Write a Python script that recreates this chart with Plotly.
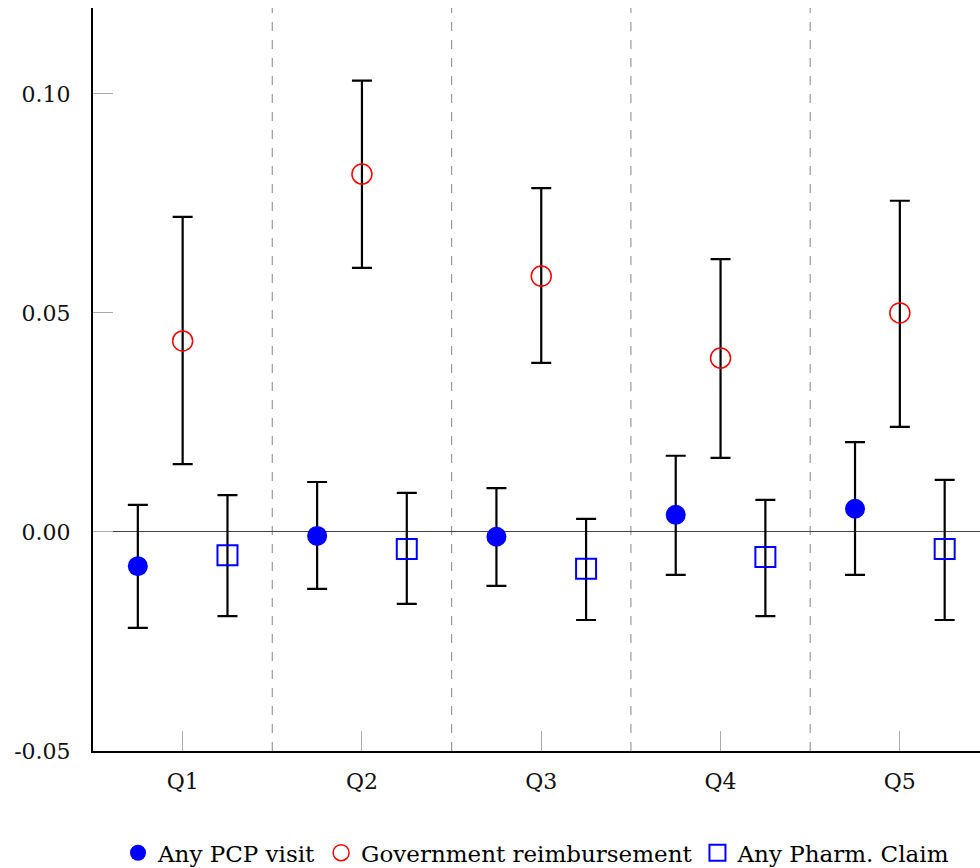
import plotly.graph_objects as go

quintiles = ["Q1", "Q2", "Q3", "Q4", "Q5"]
positions = [1, 2, 3, 4, 5]
offsets = [-0.25, 0.0, 0.25]

pcp_est = [-0.0078, -0.0009, -0.0011, 0.0039, 0.0053]
pcp_hi = [0.0062, 0.0114, 0.0100, 0.0174, 0.0205]
pcp_lo = [-0.0219, -0.0130, -0.0123, -0.0098, -0.0098]

gov_est = [0.0436, 0.0817, 0.0584, 0.0397, 0.0500]
gov_hi = [0.0719, 0.1030, 0.0785, 0.0623, 0.0756]
gov_lo = [0.0155, 0.0603, 0.0386, 0.0169, 0.0240]

pharm_est = [-0.0053, -0.0039, -0.0084, -0.0057, -0.0039]
pharm_hi = [0.0084, 0.0089, 0.0030, 0.0073, 0.0119]
pharm_lo = [-0.0192, -0.0164, -0.0201, -0.0192, -0.0201]

series_names = ["Any PCP visit", "Government reimbursement", "Any Pharm. Claim"]
dividers = [1.5, 2.5, 3.5, 4.5]
y_ticks = [-0.05, 0.0, 0.05, 0.10]
y_tick_text = ["-0.05", "0.00", "0.05", "0.10"]

FONT = "DejaVu Serif"

fig = go.Figure()

series = [
    (pcp_est, pcp_hi, pcp_lo, dict(symbol="circle", size=20, color="#0000ff")),
    (gov_est, gov_hi, gov_lo, dict(symbol="circle-open", size=20, color="#ff0000", line=dict(width=1.5, color="#ff0000"))),
    (pharm_est, pharm_hi, pharm_lo, dict(symbol="square-open", size=20, color="#0000ff", line=dict(width=2, color="#0000ff"))),
]

for (est, hi, lo, marker), off, name in zip(series, offsets, series_names):
    xs = [p + off for p in positions]
    fig.add_trace(go.Scatter(
        x=xs, y=est, mode="markers", name=name, showlegend=False,
        marker=marker,
        error_y=dict(type="data", symmetric=False,
                     array=[h - e for h, e in zip(hi, est)],
                     arrayminus=[e - l for e, l in zip(est, lo)],
                     color="black", thickness=2.2, width=10),
    ))
    fig.add_trace(go.Scatter(
        x=[None], y=[None], mode="markers", name=name, showlegend=True,
        marker=marker,
    ))

for d in dividers:
    fig.add_shape(type="line", x0=d, x1=d, y0=0, y1=1, xref="x", yref="paper",
                  line=dict(color="#999999", width=1.2, dash="dash"), layer="below")

fig.update_layout(
    width=980, height=868,
    margin=dict(l=93, r=0, t=8, b=117, autoexpand=False),
    paper_bgcolor="white", plot_bgcolor="white",
    font=dict(family=FONT, size=22, color="#111111"),
    showlegend=True,
    legend=dict(orientation="h", x=0.5, xanchor="center", y=-0.137, yanchor="middle",
                font=dict(family=FONT, size=23, color="black"),
                itemsizing="trace", tracegroupgap=0, itemwidth=30),
    xaxis=dict(range=[0.5, 5.447], tickvals=positions, ticktext=quintiles,
               ticks="inside", ticklen=20, tickcolor="#aaaaaa", tickwidth=1,
               showline=True, linecolor="black", linewidth=2, mirror=False,
               showgrid=False, zeroline=False, ticklabelstandoff=10),
    yaxis=dict(range=[-0.05, 0.1196], tickvals=y_ticks, ticktext=y_tick_text,
               ticks="inside", ticklen=20, tickcolor="#aaaaaa", tickwidth=1,
               showline=True, linecolor="black", linewidth=2, mirror=False,
               showgrid=False, zeroline=True, zerolinecolor="#444444", zerolinewidth=1,
               ticklabelstandoff=16),
)

fig.write_html("out.html")
